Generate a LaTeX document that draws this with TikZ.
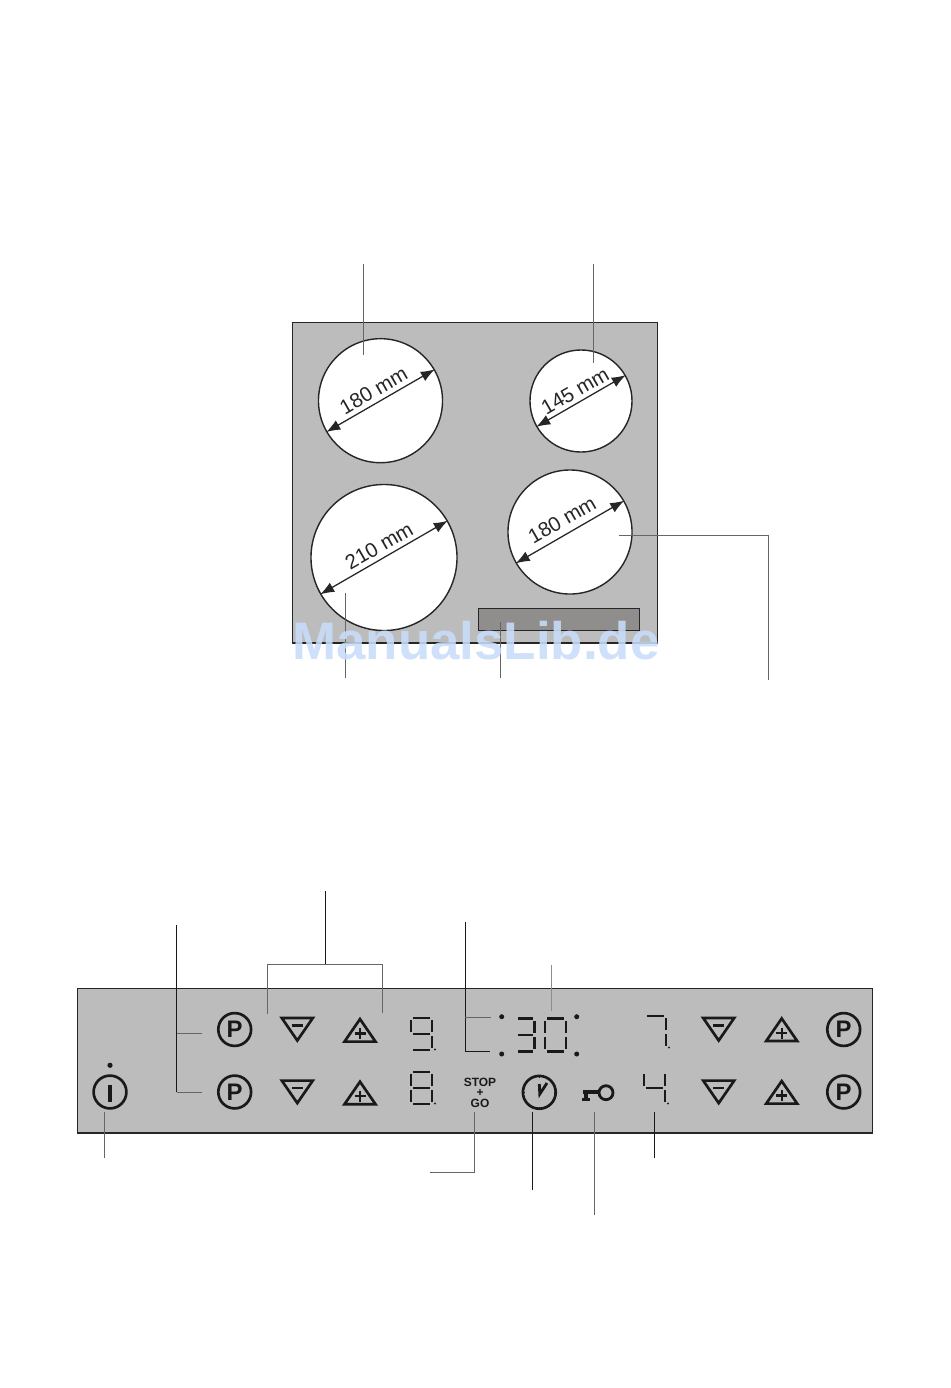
\documentclass[tikz,border=0pt]{standalone}
\usepackage{fontspec}
\setmainfont{Liberation Sans}
\usetikzlibrary{arrows.meta}
\definecolor{plategray}{HTML}{BCBCBC}
\definecolor{stripgray}{HTML}{908D8D}
\definecolor{markblue}{HTML}{C8DCFA}
\tikzset{
	hob/.style={circle, draw=black!85, line width=1pt, fill=white, inner sep=0pt},
	size/.style={font=\fontsize{14.6}{18}\selectfont, rotate=30, inner sep=0pt, text=black!85},
	span/.style={<->, line width=0.9pt, black!85},
	leader/.style={line width=0.7pt, black!60},
	leaderdark/.style={line width=0.7pt, black!90},
	roundkey/.style={circle, draw=black!90, line width=1.9pt, inner sep=0pt, minimum size=0.82cm,
		font=\fontsize{17}{18}\selectfont\bfseries, text=black!90},
	symbol/.style={line width=1.9pt, black!90},
	segment/.style={line width=1.5pt, black!90, shorten <=1.6pt, shorten >=1.6pt},
	downkey/.pic={
		\draw[symbol, miter limit=10] (-15.5,-12) -- (15.5,-12) -- (0,10.5) -- cycle;
		\draw[line width=1.6pt, black!90] (-5.5,-4.5) -- (5.5,-4.5);
	},
	upkey/.pic={
		\draw[symbol, miter limit=10] (-15.5,12) -- (15.5,12) -- (0,-10.5) -- cycle;
		\draw[line width=1.6pt, black!90] (-5.5,4) -- (5.5,4) (0,-1.5) -- (0,9.5);
	},
	digit/.pic={
		\coordinate (tl) at (0,0); \coordinate (tr) at (21,0);
		\coordinate (ml) at (0,16); \coordinate (mr) at (21,16);
		\coordinate (bl) at (0,32); \coordinate (br) at (21,32);
		\foreach \p/\q in {#1} \draw[segment] (\p) -- (\q);
		\fill[black!85] (24,31.5) circle (1.2);
	},
}
\begin{document}
\begin{tikzpicture}[x=0.025cm, y=-0.025cm, >={Latex[length=10pt,width=7.5pt]}, line join=miter]
\useasboundingbox (0,0) rectangle (950,1388);
%========================
% Top: hob plate
%========================
\draw[black!85, line width=0.9pt, fill=plategray] (292.3,322.3) rectangle (657.7,643);
\draw[black!85, line width=0.8pt, fill=stripgray] (478.3,608.3) rectangle (639.7,630.7);

\node[hob, minimum size=3.1cm] (hobA) at (380.5,400.7) {};
\node[hob, minimum size=2.55cm] (hobB) at (581,401) {};
\node[hob, minimum size=3.65cm] (hobC) at (384,557.5) {};
\node[hob, minimum size=3.1cm] (hobD) at (570,532) {};

% diameters
\draw[span] (hobA.210) -- (hobA.30);
\draw[span] (hobB.210) -- (hobB.30);
\draw[span] (hobC.210) -- (hobC.30);
\draw[span] (hobD.210) -- (hobD.30);
\node[size] (sizeA) at (373.5,390.5) {180 mm};
\node[size] (sizeB) at (575,391) {145 mm};
\node[size] (sizeC) at (379,546) {210 mm};
\node[size] (sizeD) at (562,520) {180 mm};

% leaders
\coordinate (topA) at (363,264);
\coordinate (topB) at (593.3,264);
\coordinate (inA) at (363,355.3);
\coordinate (inB) at (593.3,363.3);
\coordinate (lowC) at (345.3,678);
\coordinate (inC) at (345.3,592.7);
\coordinate (lowS) at (500.7,678);
\coordinate (inS) at (500.7,621.7);
\coordinate (inD) at (619.3,535);
\coordinate (elbowD) at (768.7,535);
\coordinate (lowD) at (768.7,680);
\draw[leader] (topA) -- (inA);
\draw[leader] (topB) -- (inB);
\draw[leader] (lowC) -- (inC);
\draw[leader] (lowS) -- (inS);
\draw[leader] (inD) -- (elbowD) -- (lowD);

%========================
% Bottom: control panel
%========================
\draw[black!85, line width=0.9pt, fill=plategray] (77.3,988.3) rectangle (872.3,1133);

% round keys
\node[roundkey] (progA) at (234.7,1029.5) {P};
\node[roundkey] (progB) at (234.7,1092) {P};
\node[roundkey] (progC) at (843.7,1029.5) {P};
\node[roundkey] (progD) at (843.7,1092) {P};
\node[roundkey] (power) at (110,1092) {};
\draw[line width=2.3pt, black!90] (110,1084.5) -- (110,1102);
\fill[black!90] (110,1065.3) circle (2.6);

% minus and plus keys
\foreach \kx/\ky in {297.3/1030, 297.3/1092.6, 718.7/1030, 718.7/1092.6}
	\pic at (\kx,\ky) {downkey};
\foreach \kx/\ky in {360/1029.6, 360/1092.2, 781.7/1029, 781.7/1091.6}
	\pic at (\kx,\ky) {upkey};

% displays
\pic at (411,1018) {digit={tl/tr,tl/ml,tr/mr,ml/mr,mr/br,bl/br}};
\pic at (411,1072) {digit={tl/tr,tl/ml,tr/mr,ml/mr,ml/bl,mr/br,bl/br}};
\pic at (645,1016) {digit={tl/tr,tr/mr,mr/br}};
\pic at (644,1072) {digit={tl/ml,ml/mr,tr/mr,mr/br}};
\begin{scope}[shift={(516,1018.5)}, xscale=0.9]
	\coordinate (tl) at (0,0); \coordinate (tr) at (21,0);
	\coordinate (ml) at (0,16.5); \coordinate (mr) at (21,16.5);
	\coordinate (bl) at (0,33); \coordinate (br) at (21,33);
	\foreach \p/\q in {tl/tr,tr/mr,ml/mr,mr/br,bl/br} \draw[segment, line width=2pt] (\p) -- (\q);
\end{scope}
\begin{scope}[shift={(545,1018.5)}]
	\coordinate (tl) at (0,0); \coordinate (tr) at (21,0);
	\coordinate (ml) at (0,16.5); \coordinate (mr) at (21,16.5);
	\coordinate (bl) at (0,33); \coordinate (br) at (21,33);
	\foreach \p/\q in {tl/tr,tl/ml,tr/mr,ml/bl,mr/br,bl/br} \draw[segment, line width=2pt] (\p) -- (\q);
\end{scope}
\foreach \dx/\dy in {501.7/1016.7, 501.7/1054, 576.7/1016.7, 576.7/1054}
	\fill[black!90] (\dx,\dy) circle (2.5);

% stop + go
\node[font=\fontsize{8.5}{7.7}\selectfont\bfseries, align=center, inner sep=0pt, text=black!90] (stopgo) at (480,1092.7) {STOP\\+\\GO};

% clock
\node[roundkey] (clock) at (539.3,1092.3) {};
\draw[line width=2pt, black!90] (539.3,1084) -- (539.8,1094) -- (547,1083);
\foreach \ca in {0,90,180,270}
	\draw[line width=1pt, black!90] (clock.\ca) -- ++(\ca:-3.5 and 3.5);

% key
\draw[line width=2pt, black!90] (606,1092.7) circle (7);
\draw[line width=2.2pt, black!90] (598.5,1092) -- (582.5,1092);
\draw[line width=2.2pt, black!90] (586,1092) -- (586,1099);
\draw[line width=1.7pt, black!90] (582,1099.5) -- (590,1099.5);

% leaders: upper side
\coordinate (headK) at (325.7,891);
\coordinate (forkK) at (325.7,964);
\coordinate (forkL) at (267.7,964);
\coordinate (forkR) at (382.7,964);
\coordinate (footL) at (267.7,1014.3);
\coordinate (footR) at (382.7,1012.7);
\draw[leaderdark] (headK) -- (forkK);
\draw[leader] (footL) -- (forkL) -- (forkR) -- (footR);

\coordinate (headP) at (176.7,925);
\coordinate (elbowP) at (176.7,1092);
\coordinate (armPb) at (202.3,1092);
\coordinate (jointP) at (176.7,1033);
\coordinate (armPa) at (201.7,1033);
\draw[leaderdark] (headP) -- (elbowP);
\draw[leader] (elbowP) -- (armPb);
\draw[leader] (jointP) -- (armPa);

\coordinate (headT) at (465.3,922);
\coordinate (elbowT) at (465.3,1051);
\coordinate (armTb) at (490,1051);
\coordinate (jointT) at (465.3,1017.7);
\coordinate (armTa) at (491,1017.7);
\draw[leaderdark] (headT) -- (elbowT) -- (armTb);
\draw[leader] (jointT) -- (armTa);

\coordinate (headD) at (551.7,965);
\coordinate (footD) at (551.7,1011);
\draw[line width=0.8pt, black!45] (headD) -- (footD);

% leaders: lower side
\coordinate (tailO) at (104.7,1158);
\coordinate (tipO) at (104.7,1111.7);
\coordinate (tipG) at (474.7,1112.3);
\coordinate (elbowG) at (474.7,1172.7);
\coordinate (tailG) at (430,1172.7);
\coordinate (tipC) at (532.7,1112.3);
\coordinate (tailC) at (532.7,1190);
\coordinate (tipK) at (594.3,1112);
\coordinate (tailK) at (594.3,1215);
\coordinate (tipF) at (654.3,1112.3);
\coordinate (tailF) at (654.3,1158.3);
\draw[leader] (tipO) -- (tailO);
\draw[leader] (tipG) -- (elbowG) -- (tailG);
\draw[leaderdark] (tipC) -- (tailC);
\draw[leader] (tipK) -- (tailK);
\draw[leaderdark] (tipF) -- (tailF);

% watermark
\node[font=\fontsize{37.6}{40}\selectfont\bfseries, text=markblue, text opacity=0.88, inner sep=0pt] (mark) at (476,641) {ManualsLib.de};
\end{tikzpicture}
\end{document}
